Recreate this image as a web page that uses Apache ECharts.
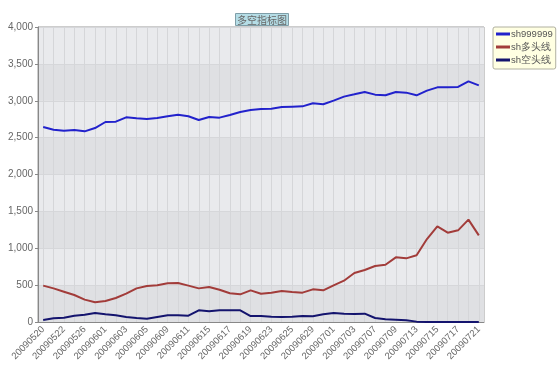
<!DOCTYPE html>
<html><head><meta charset="utf-8">
<script src="https://cdn.jsdelivr.net/npm/echarts@6/dist/echarts.min.js"></script>
<style>html,body{margin:0;padding:0;background:#fff}#c{width:560px;height:382px}</style>
</head><body><div id="c"></div>
<script>
var categories = ["20090520","20090521","20090522","20090525","20090526","20090527","20090601","20090602","20090603","20090604","20090605","20090608","20090609","20090610","20090611","20090612","20090615","20090616","20090617","20090618","20090619","20090622","20090623","20090624","20090625","20090626","20090629","20090630","20090701","20090702","20090703","20090706","20090707","20090708","20090709","20090710","20090713","20090714","20090715","20090716","20090717","20090720","20090721"];
var sh999999 = [2644,2608,2594,2603,2585,2630,2712,2716,2775,2762,2753,2766,2789,2811,2789,2739,2780,2771,2807,2848,2875,2888,2893,2915,2920,2924,2965,2952,3001,3056,3087,3119,3083,3074,3119,3110,3074,3137,3182,3182,3187,3263,3209];
var duoLine = [493,456,411,366,303,267,285,325,384,456,488,497,524,529,493,456,475,438,389,375,429,384,398,420,407,398,443,429,497,560,664,705,759,777,877,863,904,1125,1297,1211,1243,1388,1175];
var kongLine = [27,50,59,86,99,122,104,90,68,54,45,68,90,90,86,158,145,158,158,158,81,81,72,68,72,81,77,104,122,113,108,113,54,36,32,23,5,0,0,0,0,0,0];
var seriesNames = ["sh999999","sh多头线","sh空头线"];
var yTicks = {min:0, max:4000, interval:500};
var titleText = "多空指标图";

var chart = echarts.init(document.getElementById('c'));
var font = '"Liberation Sans", Arial, sans-serif';
chart.setOption({
  animation:false,
  backgroundColor:'#ffffff',
  title:{text:titleText, left:235, top:13,
    backgroundColor:'#b5dde6', borderColor:'#7f9ea8', borderWidth:1, padding:[2,2,1,2],
    textStyle:{fontSize:10, fontWeight:'normal', color:'#666', fontFamily:'"Noto Sans CJK SC", sans-serif'}},
  legend:{orient:'vertical', left:493, top:27, data:seriesNames,
    backgroundColor:'#ffffe2', borderColor:'#b0b0a0', borderWidth:1, borderRadius:2,
    padding:[1,3,3,3], itemGap:1, itemWidth:14, itemHeight:3, icon:'rect',
    textStyle:{fontSize:9.5, color:'#555', lineHeight:12, padding:[0,0,0,-4], fontFamily:font}},
  grid:{left:38, right:76, top:27, bottom:60, show:true,
    backgroundColor:'#e8e9ec', borderColor:'#9a9a9a', borderWidth:1},
  xAxis:{type:'category', data:categories, boundaryGap:true,
    axisLine:{lineStyle:{color:'#888'}},
    axisTick:{alignWithLabel:true, interval:1, length:4, lineStyle:{color:'#888'}},
    axisLabel:{interval:1, rotate:45, fontSize:9.5, color:'#666', margin:6, fontFamily:font},
    splitLine:{show:true, alignWithLabel:true, interval:0, lineStyle:{color:'#d5d6d9', width:1}}},
  yAxis:{type:'value', min:yTicks.min, max:yTicks.max, interval:yTicks.interval,
    axisLine:{show:true, lineStyle:{color:'#888'}},
    axisTick:{show:true, length:3, lineStyle:{color:'#888'}},
    axisLabel:{fontSize:10, color:'#666', margin:5, fontFamily:font,
      formatter:function(v){return v.toLocaleString('en-US');}},
    splitLine:{show:true, lineStyle:{color:'#d6d7da'}},
    splitArea:{show:true, areaStyle:{color:['#dfe0e3','#e9eaed']}}},
  series:[
    {name:seriesNames[0], type:'line', data:sh999999, showSymbol:false, color:'#2222cc', lineStyle:{width:2}},
    {name:seriesNames[1], type:'line', data:duoLine, showSymbol:false, color:'#a23c3a', lineStyle:{width:2}},
    {name:seriesNames[2], type:'line', data:kongLine, showSymbol:false, color:'#14146e', lineStyle:{width:2}}
  ]
});
</script></body></html>
